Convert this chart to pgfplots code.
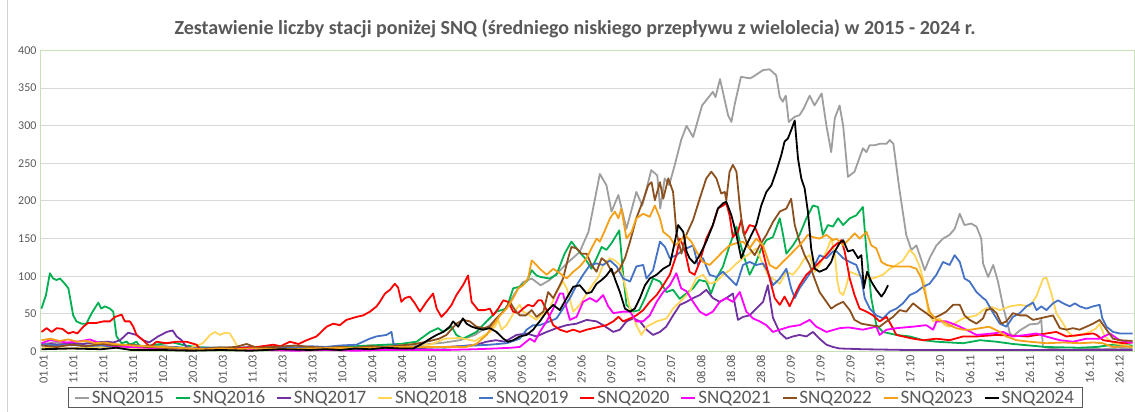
\documentclass[border=0pt]{standalone}
\usepackage{fontspec}
\setmainfont{Carlito}
\usepackage{pgfplots}
\pgfplotsset{compat=1.18}
\definecolor{cA}{RGB}{158,158,158}
\definecolor{cB}{RGB}{0,176,80}
\definecolor{cC}{RGB}{112,48,160}
\definecolor{cD}{RGB}{255,214,90}
\definecolor{cE}{RGB}{68,114,196}
\definecolor{cF}{RGB}{255,0,0}
\definecolor{cG}{RGB}{255,0,255}
\definecolor{cH}{RGB}{140,80,30}
\definecolor{cI}{RGB}{245,160,25}
\definecolor{cJ}{RGB}{0,0,0}
\definecolor{txtgray}{RGB}{89,89,89}
\definecolor{gridgray}{RGB}{217,217,217}
\definecolor{frame}{RGB}{200,224,184}
\begin{document}
\begin{tikzpicture}[x=1pt,y=1pt]
\useasboundingbox (0,0) rectangle (1135,412);
\draw[gray!35, line width=1pt] (7,0) -- (7,412);
\node[font=\fontsize{20}{24}\selectfont\bfseries, text=txtgray] at (575,383) {Zestawienie liczby stacji poniżej SNQ (średniego niskiego przepływu z wielolecia) w 2015 - 2024 r.};
\begin{axis}[
  at={(40pt,60.5pt)}, anchor=south west, scale only axis,
  width=1094pt, height=301pt,
  xmin=-0.5, xmax=365.5, ymin=0, ymax=400,
  ytick={0,50,...,400},
  xtick={0,10,...,360},
  xticklabels={01.01,11.01,21.01,31.01,10.02,20.02,01.03,11.03,21.03,31.03,10.04,20.04,30.04,10.05,20.05,30.05,09.06,19.06,29.06,09.07,19.07,29.07,08.08,18.08,28.08,07.09,17.09,27.09,07.10,17.10,27.10,06.11,16.11,26.11,06.12,16.12,26.12},
  /pgf/number format/assume math mode=true,
  ymajorgrids, grid style={gridgray, line width=1pt},
  major tick length=0pt,
  axis line style={frame, line width=1pt},
  xticklabel style={rotate=90, anchor=east, font=\fontsize{12.5}{14}\selectfont, text=txtgray, yshift=-2pt},
  yticklabel style={font=\fontsize{12}{14}\selectfont, text=txtgray},
  every axis plot/.append style={line width=1.8pt, no markers, line join=round},
  legend columns=10,
  legend style={at={(0.489,-0.118)}, anchor=north, draw=txtgray, line width=0.8pt,
    font=\fontsize{19}{22}\selectfont, text=txtgray,
    /tikz/every even column/.append style={column sep=9pt},
    inner ysep=1pt, inner xsep=6pt},
  legend image code/.code={\draw[#1, line width=1.8pt] (0pt,0pt) -- (14pt,0pt);},
]
% SNQ2015
\addplot[cA] coordinates {(0,10)(5,12)(10,8)(15,11)(20,9)(25,7)(30,10)(35,6)(40,8)(45,5)(50,4)(55,5)(60,6)(65,4)(70,5)(75,6)(80,5)(85,7)(90,6)(95,5)(100,7)(105,6)(110,8)(115,7)(120,9)(125,8)(130,10)(135,12)(140,15)(145,22)(150,35)(155,55)(158,75)(161,92)(164,97)(167,88)(170,95)(173,106)(176,118)(180,132)(183,159)(186.8,236)(189,221)(190.7,186)(193,208)(195.7,163)(199,212)(201,194)(204,241)(206,234)(207,190)(208.5,230)(210,221)(212,250)(214,281)(215.8,300)(218,285)(221,327)(224.6,345)(225.5,338)(227,362)(229.7,314)(230.8,305)(232,330)(234,365)(237,363)(238,365)(241.4,374)(243.6,375)(245.8,367)(247,338)(248,332)(249,340)(250,305)(252,312)(253.6,314)(255,323)(257,340)(258.6,327)(261,343)(262.6,300)(264.2,265)(265.4,310)(267,327)(268.2,300)(269.8,232)(272,239)(274.8,270)(276,265)(277,274)(278.7,274)(280.4,276)(282.7,276)(283.8,281)(285,276)(287,216)(289.3,155)(291,135)(292.7,141)(295.5,108)(297.1,124)(299.4,141)(301.6,150)(303.8,155)(305.5,163)(307.2,183)(308.8,168)(311,170)(312.8,166)(314.4,150)(315,117)(316.7,99)(318.4,115)(320,93)(321.7,60)(324,24)(325,20)(327.3,28)(330.6,36)(333.4,37)(334.5,42)(335,6)(340,3)(345,2)(350,4)(355,3)(360,5)(365,4)};
\addlegendentry{SNQ2015}
% SNQ2016
\addplot[cB] coordinates {(0,57)(1.5,75)(2.8,104)(3.9,97)(5,95)(6.2,97)(7.8,90)(9,84)(10.6,48)(11.7,40)(13.4,37)(15,37)(16.8,51)(19,65)(20,57)(21.2,60)(22.9,57)(24,53)(25.1,20)(26.8,11)(28.5,13)(29.6,9)(31.8,13)(33,6)(36,8)(40,10)(44,12)(48,8)(52,6)(56,5)(60,4)(65,5)(70,4)(75,5)(80,6)(85,5)(90,6)(95,5)(100,6)(105,7)(110,8)(115,9)(120,10)(125.5,13)(130,26)(132.7,31)(134.4,26)(137.2,33)(138.8,22)(141,17)(145.5,26)(148.9,40)(152.2,53)(155.6,57)(157.8,84)(160,86)(162.3,93)(164,108)(165.6,101)(167,99)(170,97)(172.3,102)(175,130)(177.3,146)(180,132)(181.8,124)(184,110)(185.7,124)(187.4,139)(189,135)(190.7,144)(192.4,155)(193.3,161)(194.6,102)(195.7,62)(198,53)(200,55)(201.9,71)(204.6,97)(206.9,93)(209.1,79)(211.3,82)(213.5,70)(215.7,77)(218,84)(220,95)(222.4,93)(224,77)(225.8,97)(228,113)(230.2,141)(232.5,166)(233.6,146)(235.2,124)(236.9,102)(239.1,119)(240.8,137)(242.5,148)(244.7,152)(247,177)(248,157)(249.2,130)(251.4,141)(253.6,155)(255.9,177)(258.1,194)(259.8,192)(261.4,155)(263.1,168)(264.8,166)(266.5,177)(268.2,168)(270.4,177)(272.6,181)(274.8,192)(276,133)(277.6,71)(279.3,35)(281.5,26)(286,22)(290.5,20)(295,15)(299.4,13)(308.3,11)(314,15)(319.5,13)(325,10)(336,6)(347,5)(353,6)(358.5,9)(365,8)};
\addlegendentry{SNQ2016}
% SNQ2017
\addplot[cC] coordinates {(0,8)(3,10)(6,9)(10,11)(14,10)(18,12)(22,13)(24,12)(26.3,15)(29,25)(31.8,22)(34,15)(36,12)(39,20)(41.9,26)(43.9,28)(45.2,20)(46.9,15)(48.5,6)(52,4)(60,3)(70,2)(80,3)(90,2)(100,3)(110,3)(120,4)(130,5)(140,7)(145.5,9)(148.9,13)(152,15)(155,13)(158.9,22)(162.3,24)(165.6,20)(169,26)(172.3,31)(175.7,35)(179,37)(182.4,42)(185.7,40)(187.9,35)(191.3,26)(193.5,29)(195.7,40)(198,44)(200.2,40)(202.4,29)(204.6,22)(206.9,26)(209,33)(211.3,48)(213.6,62)(215.8,66)(218,71)(220.2,75)(222.4,82)(224.6,71)(226.9,66)(229.1,71)(231.3,77)(233,42)(234.7,46)(236.9,48)(239.1,57)(241.4,66)(243,88)(244.7,45)(247,25)(249.2,17)(251.4,20)(253.6,22)(255.9,20)(258.1,26)(260.3,17)(262.6,9)(264.8,6)(267,4)(275,3)(290,2)(310,2)(330,2)(350,2)(365,2)};
\addlegendentry{SNQ2017}
% SNQ2018
\addplot[cD] coordinates {(0,5)(10,4)(20,6)(30,5)(40,4)(50,5)(54,11)(56.4,22)(58,26)(59.7,22)(61.4,25)(63,24)(64.7,13)(65.8,4)(70,3)(80,2)(90,3)(100,4)(110,5)(115,6)(120,8)(125,10)(130,9)(135,17)(140,18)(145,14)(150,26)(151.7,33)(152.8,42)(153.9,29)(155.6,35)(157.2,46)(158.9,57)(160,62)(161.1,53)(163.4,48)(165.6,42)(167.9,51)(170,57)(172.3,79)(174.5,93)(175.7,84)(177.9,53)(180.1,62)(182.4,77)(184.6,90)(186.3,99)(187.9,115)(190.2,124)(191.8,121)(193.5,115)(195.2,88)(196.9,57)(199,35)(200.7,22)(202.4,33)(205.8,40)(209.1,44)(211.3,57)(213.6,66)(216.8,79)(219,97)(221.3,102)(223.5,90)(225.8,93)(228,102)(230.2,108)(232.5,117)(234.7,124)(236.9,130)(239.1,137)(241.4,115)(243,102)(244.7,97)(247,90)(249.2,106)(251.4,102)(253.6,113)(255.3,124)(257,128)(258.7,106)(260.3,115)(262.6,133)(264.2,150)(265.4,130)(266.2,95)(267,79)(268.2,75)(269.3,88)(270.4,106)(274.8,99)(278.2,97)(281.5,102)(283.8,110)(286,115)(288.2,121)(290.5,135)(292.1,128)(293.8,113)(295.5,88)(296.6,53)(298.3,40)(300.5,44)(302.2,35)(303.8,33)(306.6,40)(308.3,44)(310.5,46)(312.8,48)(315,55)(317.3,60)(320.6,55)(324,60)(327.3,62)(330.6,60)(332.8,73)(335.1,97)(336.2,98)(337.9,77)(339.5,51)(341.8,37)(343.4,26)(345.1,20)(347.3,22)(350.7,26)(352.9,31)(354,37)(355.7,20)(358.5,11)(361.8,9)(365,6)};
\addlegendentry{SNQ2018}
% SNQ2019
\addplot[cE] coordinates {(0,10)(5,8)(10,9)(15,7)(20,8)(25,6)(30,9)(35,7)(40,5)(45,6)(50,4)(55,5)(60,4)(65,5)(70,6)(75,5)(80,6)(85,5)(90,7)(95,6)(100,8)(105.4,9)(107.6,13)(109.8,17)(112,20)(115.4,22)(117.1,26)(117.7,11)(119.9,6)(125,5)(130,6)(135,5)(140,7)(145,8)(150,9)(155.6,11)(160,17)(162.3,29)(164.5,35)(166.7,35)(170,40)(172.3,44)(174.5,57)(176.8,71)(179,88)(181.2,102)(183.5,115)(185.7,117)(187.9,115)(190.2,121)(192.4,113)(194.6,97)(196.9,93)(199,113)(201.3,115)(202.4,97)(204.6,108)(206.9,146)(208.6,139)(210.2,124)(212.4,128)(214.7,135)(216.9,139)(218,141)(219.6,115)(221.3,124)(223.5,102)(225.8,99)(228,106)(230.2,97)(232.5,88)(234.7,115)(236.9,119)(239.1,115)(241.4,117)(243,106)(244.7,88)(247,97)(249.2,110)(250.8,84)(252,71)(253.6,84)(255.9,97)(258.1,110)(260.3,128)(262.6,124)(264.8,133)(266,133)(268.2,124)(270.4,119)(272.6,115)(274.3,97)(275.4,71)(277.1,57)(279.3,48)(281.5,44)(283.8,53)(286,57)(288.2,64)(290.5,75)(292.7,79)(294.9,86)(297.1,90)(299.4,102)(301.6,119)(303.8,115)(305.5,128)(307.2,119)(308.8,97)(310.5,93)(312.8,79)(315,71)(316,68)(318.4,51)(320.6,37)(322.8,33)(325,46)(327.3,51)(329.5,60)(331.7,65)(332.9,55)(334.5,60)(336.2,55)(338.4,64)(340.1,68)(341.8,64)(344,60)(345.7,64)(347.3,60)(349.6,57)(351.8,60)(354,62)(354.9,44)(356.3,33)(358.5,26)(360.7,24)(365,24)};
\addlegendentry{SNQ2019}
% SNQ2020
\addplot[cF] coordinates {(0,26)(1.7,31)(3.4,26)(5.1,31)(7,30)(9,24)(10.6,26)(12,24)(14,33)(15.6,38)(18.4,38)(20.7,40)(22.9,40)(24.6,46)(26.8,49)(27.9,40)(29.6,40)(30.7,33)(31.8,22)(34,15)(36.3,6)(38.5,13)(41.8,11)(45.2,13)(48.5,13)(51.9,9)(53,3)(58,2)(63,3)(68,5)(72,6)(77.5,9)(80,7)(83.1,13)(86,10)(88.7,15)(92,20)(95.4,33)(97.6,37)(99.8,35)(102,42)(105.4,46)(107.6,48)(109.9,53)(112.1,60)(113.2,66)(114.9,77)(116.6,82)(118.2,90)(119.3,85)(120.4,66)(121.6,71)(123.2,73)(124.9,64)(126.6,53)(128.8,66)(131,77)(132.2,57)(133.8,46)(135.5,53)(137.2,62)(138.8,75)(141,88)(142.7,101)(143.9,66)(146.1,55)(148.3,55)(150,57)(151.1,48)(152.8,57)(154.5,68)(156.1,66)(157.8,53)(159.5,51)(161.1,57)(162.8,62)(164.5,60)(166.2,68)(167.3,68)(169,55)(171.2,35)(173.4,29)(175.7,26)(177.9,29)(180.1,26)(182.4,29)(184.6,31)(186.8,33)(189,35)(191.3,40)(193,46)(194.6,40)(196.9,44)(199,48)(201.3,55)(203.5,66)(205.8,75)(208,88)(210.2,102)(212.4,128)(213.6,150)(215.2,135)(216.8,106)(218.5,102)(220.2,119)(222.4,150)(224.6,168)(226.3,190)(228,194)(229.1,197)(230.2,181)(231.3,152)(233,159)(234.1,175)(235.2,155)(236.9,168)(238.6,166)(240.3,150)(241.9,124)(243.6,97)(245.3,71)(247,62)(248.6,73)(250.3,60)(252,75)(253.6,88)(255.9,102)(258.1,110)(260.3,119)(262.6,128)(264.8,139)(267,146)(267.6,148)(268.7,133)(270.4,97)(272,75)(273.7,57)(276,53)(278.2,48)(280.4,40)(282.7,46)(284.3,35)(286,22)(288.2,20)(291.6,17)(295,15)(299.4,17)(303.8,15)(308.3,20)(312.8,20)(319.5,22)(325,21)(330,20)(336.2,24)(339.5,26)(342.9,20)(347.3,22)(351.8,24)(353,22)(355.2,15)(358.5,13)(362,11)(365,12)};
\addlegendentry{SNQ2020}
% SNQ2021
\addplot[cG] coordinates {(0,11)(2.8,15)(5,14)(8.4,12)(12,13)(16.2,16)(19.6,11)(21.8,9)(25,7)(29,6)(35,5)(39,4)(45,4)(55,3)(65,2)(75,2)(85,1)(95,2)(105,1)(115,2)(125,2)(135,2)(145,3)(152,4)(157,5)(160,6)(163.4,17)(165,13)(166.7,26)(169,40)(171.2,57)(173.4,77)(174.5,77)(175.7,57)(176.8,42)(179,46)(181.2,66)(183.5,71)(185.7,66)(187.9,75)(189.6,60)(191.3,51)(194.6,53)(196.9,53)(199,40)(201.3,40)(203.5,48)(205.8,66)(208,79)(210.2,88)(212.4,104)(214,84)(215.8,80)(218,66)(220.2,53)(222.4,48)(224.6,53)(226.9,66)(229.1,71)(231.3,66)(233.6,79)(235.8,53)(238,44)(240.3,40)(242.5,35)(244.7,26)(247,29)(250.3,33)(253.6,35)(257,42)(259.2,33)(262.6,26)(267,31)(270,32)(274.8,29)(279.3,33)(280.4,22)(282.7,29)(286,31)(291.6,33)(296,35)(298.3,29)(299.4,40)(302.7,40)(306.1,35)(309.4,29)(312.8,22)(318.4,24)(321.7,26)(325,20)(329.5,22)(332.8,24)(336,20)(340.7,15)(345.1,13)(349.6,17)(354,17)(357.4,24)(360.7,15)(364,12)(365,12)};
\addlegendentry{SNQ2021}
% SNQ2022
\addplot[cH] coordinates {(0,8)(5,6)(10,9)(15,7)(20,10)(25,8)(30,9)(35,6)(40,5)(45,4)(50,3)(55,4)(60,5)(65,6)(68.6,10)(72,5)(78,6)(85,8)(90,6)(95,5)(100,6)(105,5)(110,7)(115,6)(120,8)(125,10)(130,14)(133,17)(135.5,22)(138.8,37)(141,42)(143.3,40)(145.5,33)(147.8,31)(150,33)(152.2,44)(154.5,53)(156.7,66)(158.4,55)(160,48)(162,48)(164,55)(165.6,46)(167.9,53)(169.5,79)(171.2,71)(172.9,84)(174.5,97)(176.2,124)(177.3,139)(179,137)(180.7,130)(182.4,130)(184,115)(185.7,106)(187.4,124)(189,119)(191.3,102)(193.5,110)(195.2,124)(196.9,146)(199,177)(201.3,201)(203,221)(204.1,225)(205.2,201)(206.9,225)(208,203)(209.7,230)(211.3,212)(212.4,159)(214.1,130)(215.7,155)(218,175)(220.2,203)(222.4,230)(224.1,239)(225.8,230)(227.4,210)(228.6,212)(229.1,201)(230.2,239)(231.3,248)(232.5,239)(233.6,194)(234.7,159)(235.8,146)(236.9,137)(238.6,128)(240.3,141)(242.5,155)(244.7,172)(247,186)(249.2,190)(250.8,203)(252,168)(253.6,146)(255.3,128)(257,115)(258.6,97)(260.3,79)(262.6,66)(264.2,57)(266,62)(268.2,66)(270.4,55)(272,42)(274.3,37)(277.1,35)(280.4,33)(282.7,40)(284.9,46)(287.1,55)(289.3,53)(291.6,64)(293.8,57)(296,51)(298.3,44)(300.5,48)(302.7,53)(305,62)(307.2,62)(308.8,48)(310.5,42)(312.8,37)(315,44)(316.1,55)(317.8,57)(319.5,51)(321.1,37)(322.8,40)(325,51)(327.3,48)(329.5,48)(331.7,42)(334,44)(336.2,46)(338.4,48)(340.7,31)(342.9,29)(345.1,31)(347.3,29)(349.6,33)(351.8,37)(354,42)(356.3,29)(358.5,17)(360.7,15)(365,14)};
\addlegendentry{SNQ2022}
% SNQ2023
\addplot[cI] coordinates {(0,15)(3,17)(6,14)(9,16)(12,13)(15,14)(18,11)(21,12)(24,10)(27,9)(30,8)(35,7)(40,6)(45,5)(50,4)(55,3)(60,4)(65,3)(70,4)(80,3)(90,4)(100,5)(110,5)(120,6)(130,6)(140,6)(142,6)(145.5,10)(148.9,22)(151.1,35)(153.4,48)(155.6,57)(157.8,71)(159.5,84)(161.1,88)(162.8,97)(164,121)(165.6,115)(166.7,110)(169,102)(171.2,110)(173.4,104)(175.7,97)(177.9,106)(180.1,113)(182.4,124)(184,137)(185.7,150)(186.8,146)(188.5,161)(190.2,177)(191.8,186)(193,177)(194,190)(195.7,150)(197.4,159)(199,177)(201.3,183)(203.5,179)(205.2,194)(206.9,177)(208,159)(210.2,152)(211.9,141)(213.6,146)(215.2,155)(217.4,146)(219.1,133)(221.3,119)(223.5,115)(225.8,124)(228,133)(230.2,141)(232.5,144)(234.7,146)(236.9,137)(239.1,150)(241.4,141)(243.6,115)(245.8,110)(248,119)(250.3,128)(252.5,137)(254.7,146)(256.4,155)(258.1,152)(260.3,150)(262.6,155)(264.8,148)(266,150)(268.2,141)(270.4,150)(272.1,157)(273.7,150)(276,159)(277.6,141)(279.3,137)(281,119)(282.7,115)(284.9,113)(288,113)(290.5,113)(292.7,110)(294.4,97)(295.5,79)(297.1,53)(299.4,42)(301.6,40)(303.8,35)(306.1,31)(308.3,29)(311,29)(314,31)(317,33)(320.6,26)(322.8,20)(326.2,15)(330.6,13)(336.2,11)(342,12)(347.3,11)(352,12)(355,11)(358.5,6)(362,7)(365,6)};
\addlegendentry{SNQ2023}
% SNQ2024
\addplot[cJ] coordinates {(0,3)(10,4)(20,3)(25,5)(30,2)(40,2)(50,1)(60,2)(70,1)(80,3)(90,2)(95,3)(100,2)(105,4)(110,3)(115,5)(120,4)(124.4,4)(127.7,11)(130,17)(132.2,22)(134.4,26)(136.6,33)(137.7,40)(139.4,33)(141,44)(142.2,37)(143.9,33)(145.5,31)(147.8,29)(150,31)(152.2,26)(154.5,17)(156.1,13)(157.8,15)(160,20)(162.3,22)(164.5,29)(165.6,35)(166.7,40)(169,53)(171.2,62)(173.4,55)(175.7,71)(177.9,86)(180.1,88)(182.4,77)(184,79)(185.7,90)(187.4,95)(189,101)(190.7,110)(191.8,97)(193.5,79)(195.2,57)(196.9,53)(198.5,57)(200.2,71)(201.9,88)(203.5,97)(205.8,102)(208,110)(210.2,115)(211.9,146)(213,168)(214.7,159)(215.8,133)(216.8,124)(218.5,117)(220.2,128)(222.4,146)(224.6,168)(226.3,190)(228,197)(229.1,199)(230.8,181)(232.5,155)(234.1,124)(235.8,141)(237.5,155)(239.1,168)(240.8,194)(242.5,212)(244.2,221)(245.8,239)(247.5,261)(248.6,279)(249.7,283)(250.8,294)(252,307)(253.1,256)(254.2,230)(255.3,217)(256.4,186)(257.5,137)(258.7,110)(260.3,106)(262.6,110)(264.2,119)(265.4,133)(267,144)(268.2,148)(269.8,133)(271.5,135)(273.2,124)(274.3,128)(275.1,84)(276.2,106)(277.6,93)(279.3,82)(281,73)(282.1,79)(283.2,88)};
\addlegendentry{SNQ2024}
\end{axis}
\end{tikzpicture}
\end{document}
